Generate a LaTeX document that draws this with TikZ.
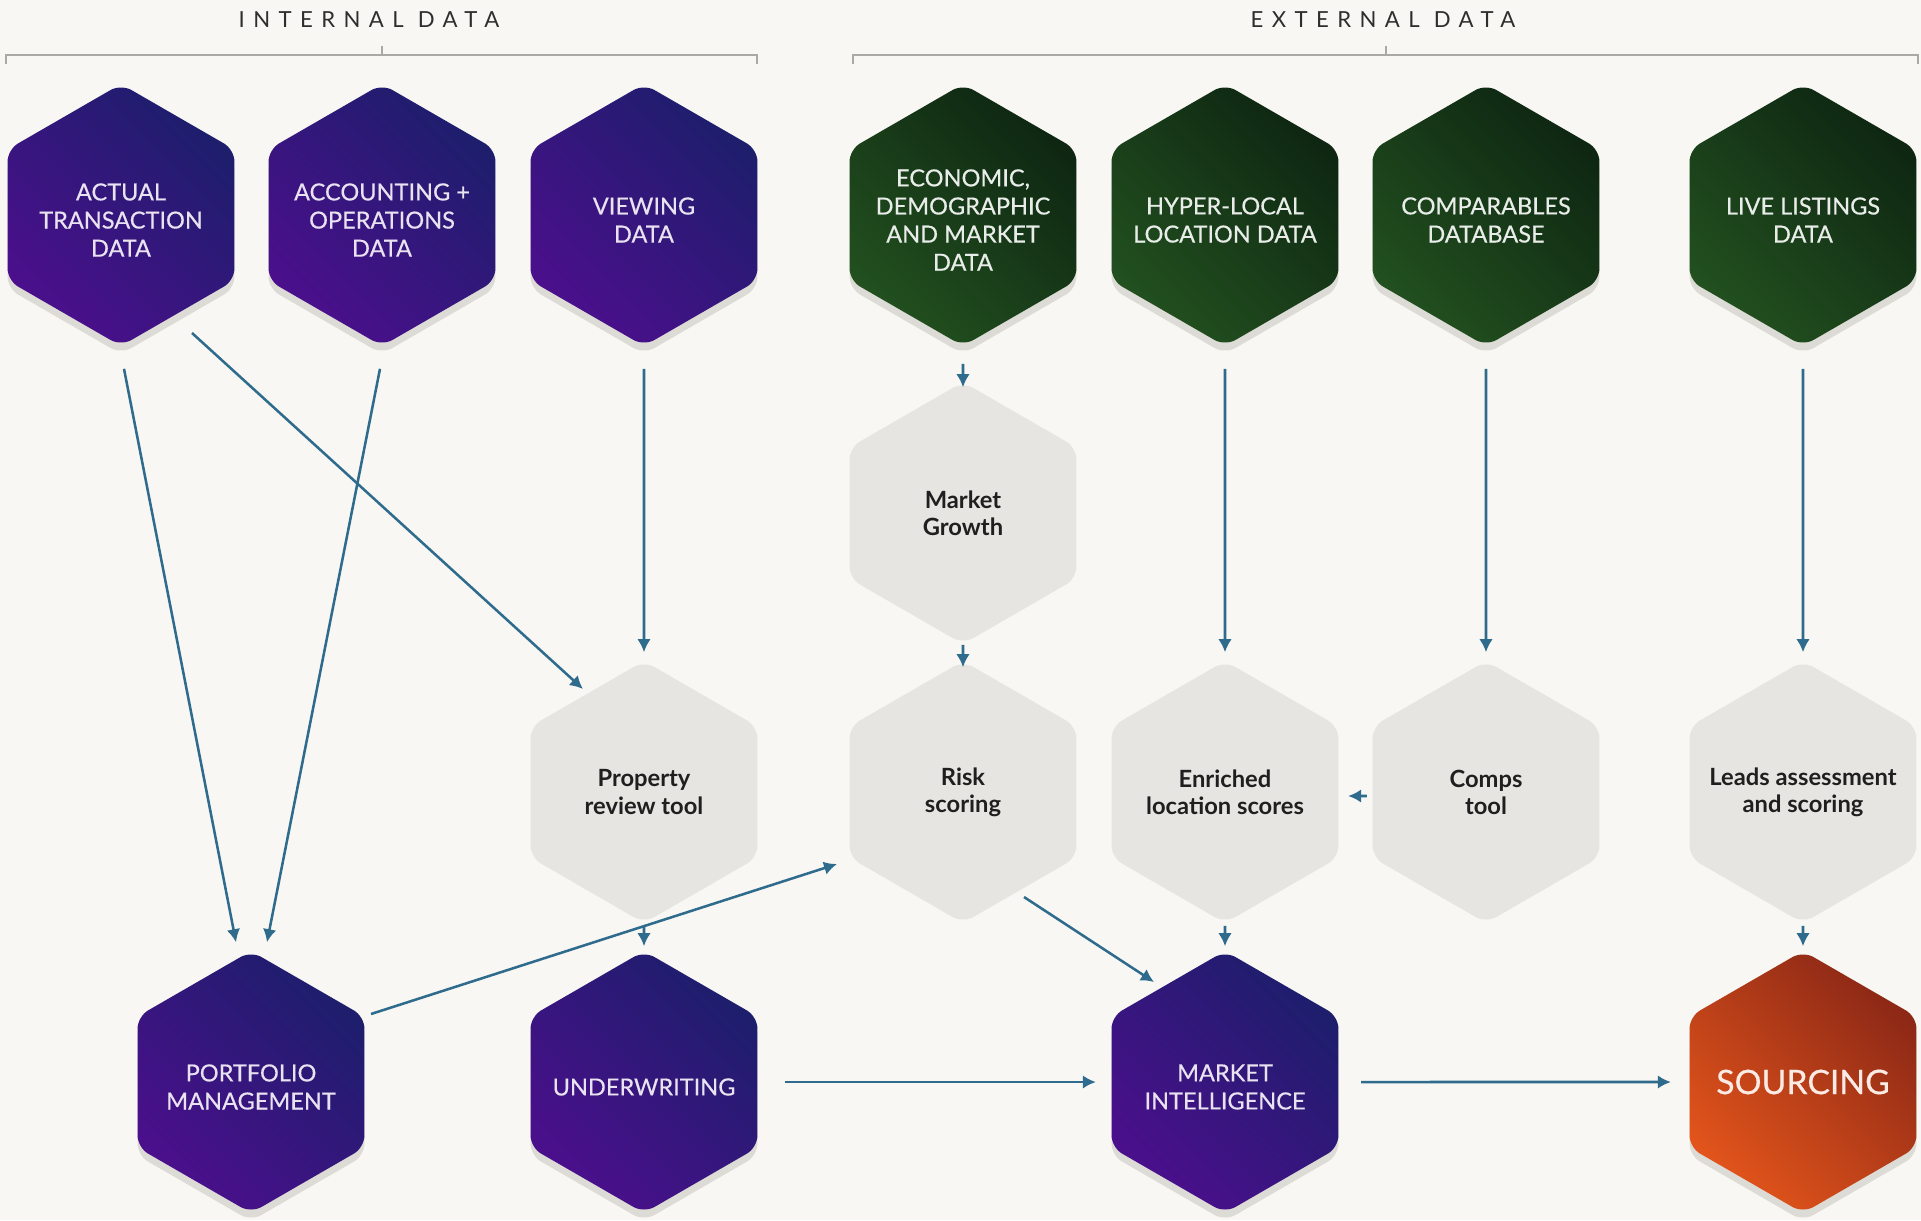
\documentclass[tikz,border=0pt]{standalone}
\usepackage{fontspec}
\setmainfont{Lato}
\usepackage{tikz}
\usetikzlibrary{arrows.meta,positioning,shapes.geometric,shadows}

\definecolor{paper}{HTML}{F8F7F3}
\definecolor{inkblue}{HTML}{1D1E6C}
\definecolor{inkpurple}{HTML}{4B0F8C}
\definecolor{forestdark}{HTML}{0E2612}
\definecolor{forestlight}{HTML}{22501F}
\definecolor{emberdark}{HTML}{8C2816}
\definecolor{emberlight}{HTML}{E2541B}
\definecolor{tilegray}{HTML}{E6E5E1}
\definecolor{shadowgray}{HTML}{DCDBD6}
\definecolor{flowblue}{HTML}{2E6B8C}
\definecolor{rulegray}{HTML}{A9A9A6}
\definecolor{headgray}{HTML}{2E2E2E}

\begin{document}
\begin{tikzpicture}[
  hex/.style={regular polygon, regular polygon sides=6, shape border rotate=30,
    minimum size=2.62cm, inner sep=-0.3cm, rounded corners=0.12cm, align=center},
  lift/.style={drop shadow={shadow xshift=0cm, shadow yshift=-0.08cm, fill=shadowgray, opacity=1}},
  caps/.style={align=center, yshift=-0.05cm, text=#1,
    font=\addfontfeature{FakeBold=0.4}\fontsize{6.7}{8}\selectfont},
  inner/.style={hex, lift, top color=inkblue, bottom color=inkpurple, shading angle=-45,
    label={[caps=white!88!inkpurple]center:{#1}}},
  outer/.style={hex, lift, top color=forestdark, bottom color=forestlight, shading angle=-45,
    label={[caps=white!90!forestlight]center:{#1}}},
  tool/.style={hex, fill=tilegray, text=black!88, font=\bfseries\fontsize{6.75}{7.7}\selectfont},
  goal/.style={hex, lift, top color=emberdark, bottom color=emberlight, shading angle=-45,
    text=white!88!emberlight, font=\addfontfeature{FakeBold=0.4}\fontsize{9.6}{11}\selectfont},
  head/.style={text=headgray, font=\addfontfeature{LetterSpace=38}\fontsize{6.3}{8}\selectfont},
  brace/.style={draw=rulegray, line width=0.6pt},
  flow/.style={draw=flowblue, line width=0.72pt, -{Latex[length=1.3mm,width=1.35mm]}}
]
\fill[paper] (0,0) rectangle (19.21,-12.20);
\useasboundingbox (0,0) rectangle (19.21,-12.20);

% group headers
\node[head] (inthead) at (3.69,-0.20) {INTERNAL DATA};
\node[head] (exthead) at (13.83,-0.20) {EXTERNAL DATA};
\draw[brace] (0.06,-0.64) -- (0.06,-0.55) -- (7.57,-0.55) -- (7.57,-0.64);
\draw[brace] (3.82,-0.55) -- (3.82,-0.46);
\draw[brace] (8.53,-0.64) -- (8.53,-0.55) -- (19.18,-0.55) -- (19.18,-0.64);
\draw[brace] (13.86,-0.55) -- (13.86,-0.46);

% data sources
\node[inner={ACTUAL\\TRANSACTION\\DATA}] (actual) at (1.21,-2.15) {};
\node[inner={ACCOUNTING +\\OPERATIONS\\DATA}] (accounting) at (3.82,-2.15) {};
\node[inner={VIEWING\\DATA}] (viewing) at (6.44,-2.15) {};
\node[outer={ECONOMIC,\\DEMOGRAPHIC\\AND MARKET\\DATA}] (econ) at (9.63,-2.15) {};
\node[outer={HYPER-LOCAL\\LOCATION DATA}] (hyperlocal) at (12.25,-2.15) {};
\node[outer={COMPARABLES\\DATABASE}] (compdb) at (14.86,-2.15) {};
\node[outer={LIVE LISTINGS\\DATA}] (listings) at (18.03,-2.15) {};

% tools
\node[tool] (growth) at (9.63,-5.13) {Market\\Growth};
\node[tool] (propreview) at (6.44,-7.92) {Property\\review tool};
\node[tool] (risk) at (9.63,-7.92) {Risk\\scoring};
\node[tool] (enriched) at (12.25,-7.92) {Enriched\\location scores};
\node[tool] (compstool) at (14.86,-7.92) {Comps\\tool};
\node[tool] (leads) at (18.03,-7.92) {Leads assessment\\and scoring};

% functions
\node[inner={PORTFOLIO\\MANAGEMENT}] (portfolio) at (2.51,-10.82) {};
\node[inner={UNDERWRITING}] (underwriting) at (6.44,-10.82) {};
\node[inner={MARKET\\INTELLIGENCE}] (marketintel) at (12.25,-10.82) {};
\node[goal] (sourcing) at (18.03,-10.82) {SOURCING};

% flows
\draw[flow] ([shift={(0.03,-0.22)}]actual.-90) -- ([shift={(-0.15,0.08)}]portfolio.90);
\draw[flow] ([shift={(-0.02,-0.22)}]accounting.-90) -- ([shift={(0.16,0.08)}]portfolio.90);
\draw[flow] ([shift={(0.71,-1.18)}]actual.center) -- ([shift={(-0.61,1.03)}]propreview.center);
\draw[flow] ([yshift=-0.22cm]viewing.-90) -- ([yshift=0.08cm]propreview.90);
\draw[flow] ([yshift=-0.17cm]econ.-90) -- ([yshift=-0.06cm]growth.90);
\draw[flow] (growth.-90) -- ([yshift=-0.07cm]risk.90);
\draw[flow] ([yshift=-0.22cm]hyperlocal.-90) -- ([yshift=0.08cm]enriched.90);
\draw[flow] ([yshift=-0.22cm]compdb.-90) -- ([yshift=0.08cm]compstool.90);
\draw[flow] ([yshift=-0.22cm]listings.-90) -- ([yshift=0.08cm]leads.90);
\draw[flow] ([shift={(-0.05,-0.04)}]compstool.180) -- ([shift={(0.09,-0.04)}]enriched.0);
\draw[flow] ([yshift=-0.02cm]propreview.-90) -- ([yshift=0.04cm]underwriting.90);
\draw[flow] ([yshift=-0.02cm]enriched.-90) -- ([yshift=0.04cm]marketintel.90);
\draw[flow] ([yshift=-0.02cm]leads.-90) -- ([yshift=0.04cm]sourcing.90);
\draw[flow] ([shift={(1.20,0.68)}]portfolio.center) -- ([shift={(-1.26,-0.72)}]risk.center);
\draw[flow] ([shift={(0.61,-1.05)}]risk.center) -- ([shift={(-0.71,1.00)}]marketintel.center);
\draw[flow] ([xshift=0.27cm]underwriting.0) -- ([xshift=-0.15cm]marketintel.180);
\draw[flow] ([xshift=0.22cm]marketintel.0) -- ([xshift=-0.18cm]sourcing.180);
\end{tikzpicture}
\end{document}
